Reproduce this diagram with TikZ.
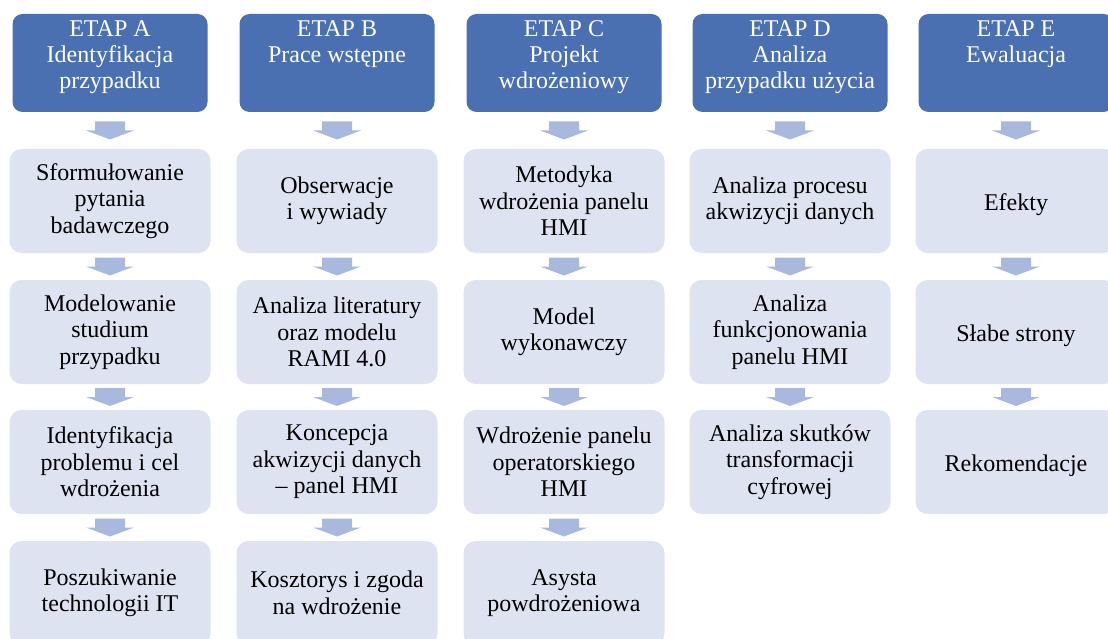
\documentclass[tikz,border=0pt]{standalone}
\usepackage{fontspec}
\setmainfont{Liberation Serif}
\usetikzlibrary{calc}

\definecolor{niebieski}{RGB}{74,112,177}
\definecolor{jasny}{RGB}{221,227,241}
\definecolor{szary}{RGB}{169,185,222}

\tikzset{
  etap/.style={fill=niebieski, rounded corners=10pt, minimum width=195pt,
    minimum height=98pt, inner sep=0pt, text=white,
    font=\fontsize{24}{26}\selectfont,
    execute at begin node={\begin{minipage}[c][84pt][t]{195pt}\centering},
    execute at end node={\end{minipage}}},
  krok/.style={fill=jasny, rounded corners=12pt, minimum width=201pt,
    minimum height=104pt, inner sep=2pt, align=center,
    font=\fontsize{24}{26.5}\selectfont,
    execute at begin node={\rule{0pt}{25pt}}},
  blok/.style={fill=szary}
}

% strzalka blokowa miedzy dwoma wezlami
\newcommand{\strzalka}[2]{%
  \coordinate (m) at ($(#1.south)!0.5!(#2.north)$);
  \fill[blok, shift={(m)}] (-15,-9) -- (15,-9) -- (15,0) -- (24,0) -- (0,9)
    -- (-24,0) -- (-15,0) -- cycle;}

\begin{document}
\begin{tikzpicture}[x=1pt, y=-1pt]
\useasboundingbox (0,0) rectangle (1108,639);
\clip (0,0) rectangle (1108,639);

%naglowki etapow
\node[etap] (eA) at (110,63) {ETAP A\\Identyfikacja\\przypadku};
\node[etap] (eB) at (337,63) {ETAP B\\Prace wstępne};
\node[etap] (eC) at (564,63) {ETAP C\\Projekt\\wdrożeniowy};
\node[etap] (eD) at (790,63) {ETAP D\\Analiza\\przypadku użycia};
\node[etap] (eE) at (1016,63) {ETAP E\\Ewaluacja};

%etap A
\node[krok] (a1) at (110,201) {Sformułowanie\\pytania\\badawczego};
\node[krok] (a2) at (110,332) {Modelowanie\\studium\\przypadku};
\node[krok] (a3) at (110,462) {Identyfikacja\\problemu i cel\\wdrożenia};
\node[krok] (a4) at (110,593) {Poszukiwanie\\technologii IT};

%etap B
\node[krok] (b1) at (337,201) {Obserwacje\\i wywiady};
\node[krok] (b2) at (337,332) {Analiza literatury\\oraz modelu\\RAMI 4.0};
\node[krok] (b3) at (337,462) {Koncepcja\\akwizycji danych\\– panel HMI};
\node[krok] (b4) at (337,593) {Kosztorys i zgoda\\na wdrożenie};

%etap C
\node[krok] (c1) at (564,201) {Metodyka\\wdrożenia panelu\\HMI};
\node[krok] (c2) at (564,332) {Model\\wykonawczy};
\node[krok] (c3) at (564,462) {Wdrożenie panelu\\operatorskiego\\HMI};
\node[krok] (c4) at (564,593) {Asysta\\powdrożeniowa};

%etap D
\node[krok] (d1) at (790,201) {Analiza procesu\\akwizycji danych};
\node[krok] (d2) at (790,332) {Analiza\\funkcjonowania\\panelu HMI};
\node[krok] (d3) at (790,462) {Analiza skutków\\transformacji\\cyfrowej};

%etap E
\node[krok] (f1) at (1016,201) {Efekty};
\node[krok] (f2) at (1016,332) {Słabe strony};
\node[krok] (f3) at (1016,462) {Rekomendacje};

%strzalki
\foreach \p/\q in {eA/a1,a1/a2,a2/a3,a3/a4,eB/b1,b1/b2,b2/b3,b3/b4,
  eC/c1,c1/c2,c2/c3,c3/c4,eD/d1,d1/d2,d2/d3,eE/f1,f1/f2,f2/f3}
  {\strzalka{\p}{\q}}
\end{tikzpicture}
\end{document}
